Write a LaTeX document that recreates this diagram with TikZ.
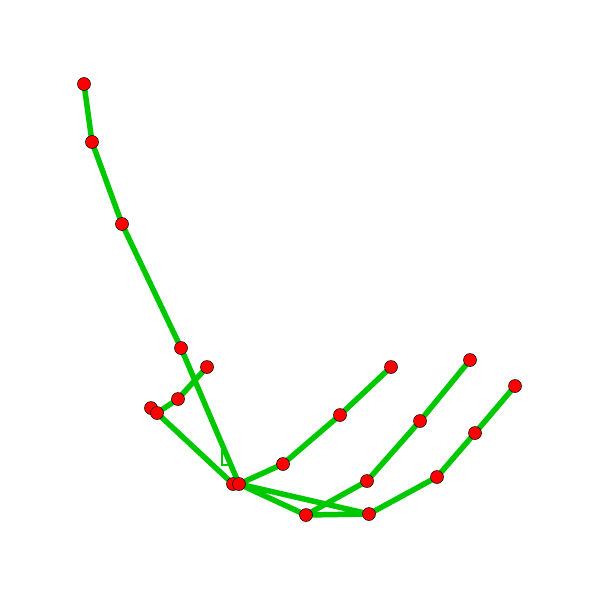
\documentclass[tikz,border=0pt]{standalone}
\begin{document}
\begin{tikzpicture}[x=1pt,y=-1pt,
  bone/.style={draw={rgb,255:red,0;green,200;blue,0},line width=5.5pt,line join=round},
  thinbone/.style={draw={rgb,255:red,0;green,200;blue,0},line width=1.3pt},
  joint/.style={circle,fill=red,draw=black,line width=0.5pt,inner sep=0pt,minimum size=13pt}]
\useasboundingbox (0,0) rectangle (600,600);
\coordinate (p1) at (84,84);
\coordinate (p2) at (92,142);
\coordinate (p3) at (122,224);
\coordinate (p4) at (181,348);
\coordinate (p5) at (207,367);
\coordinate (p6) at (178,399);
\coordinate (p7) at (151,408);
\coordinate (p8) at (157,413);
\coordinate (p9) at (233,484);
\coordinate (p10) at (239,484);
\coordinate (p11) at (283,464);
\coordinate (p12) at (340,415);
\coordinate (p13) at (391,367);
\coordinate (p14) at (306,515);
\coordinate (p15) at (369,514);
\coordinate (p16) at (367,481);
\coordinate (p17) at (420,421);
\coordinate (p18) at (470,360);
\coordinate (p19) at (437,477);
\coordinate (p20) at (475,433);
\coordinate (p21) at (515,386);
\coordinate (t1) at (222,449);
\coordinate (t2) at (222,465);
\coordinate (t3) at (229,465);
\draw[bone] (p1) -- (p2) -- (p3) -- (p4) -- (p10);
\draw[bone] (p5) -- (p6) -- (p8) -- (p9);
\draw[bone] (p10) -- (p11) -- (p12) -- (p13);
\draw[bone] (p10) -- (p14) -- (p15) -- (p10);
\draw[bone] (p14) -- (p16) -- (p17) -- (p18);
\draw[bone] (p15) -- (p19) -- (p20) -- (p21);
\draw[thinbone] (t1) -- (t2) -- (t3);
\foreach \i in {1,...,21} \node[joint] (n\i) at (p\i) {};
\end{tikzpicture}
\end{document}
